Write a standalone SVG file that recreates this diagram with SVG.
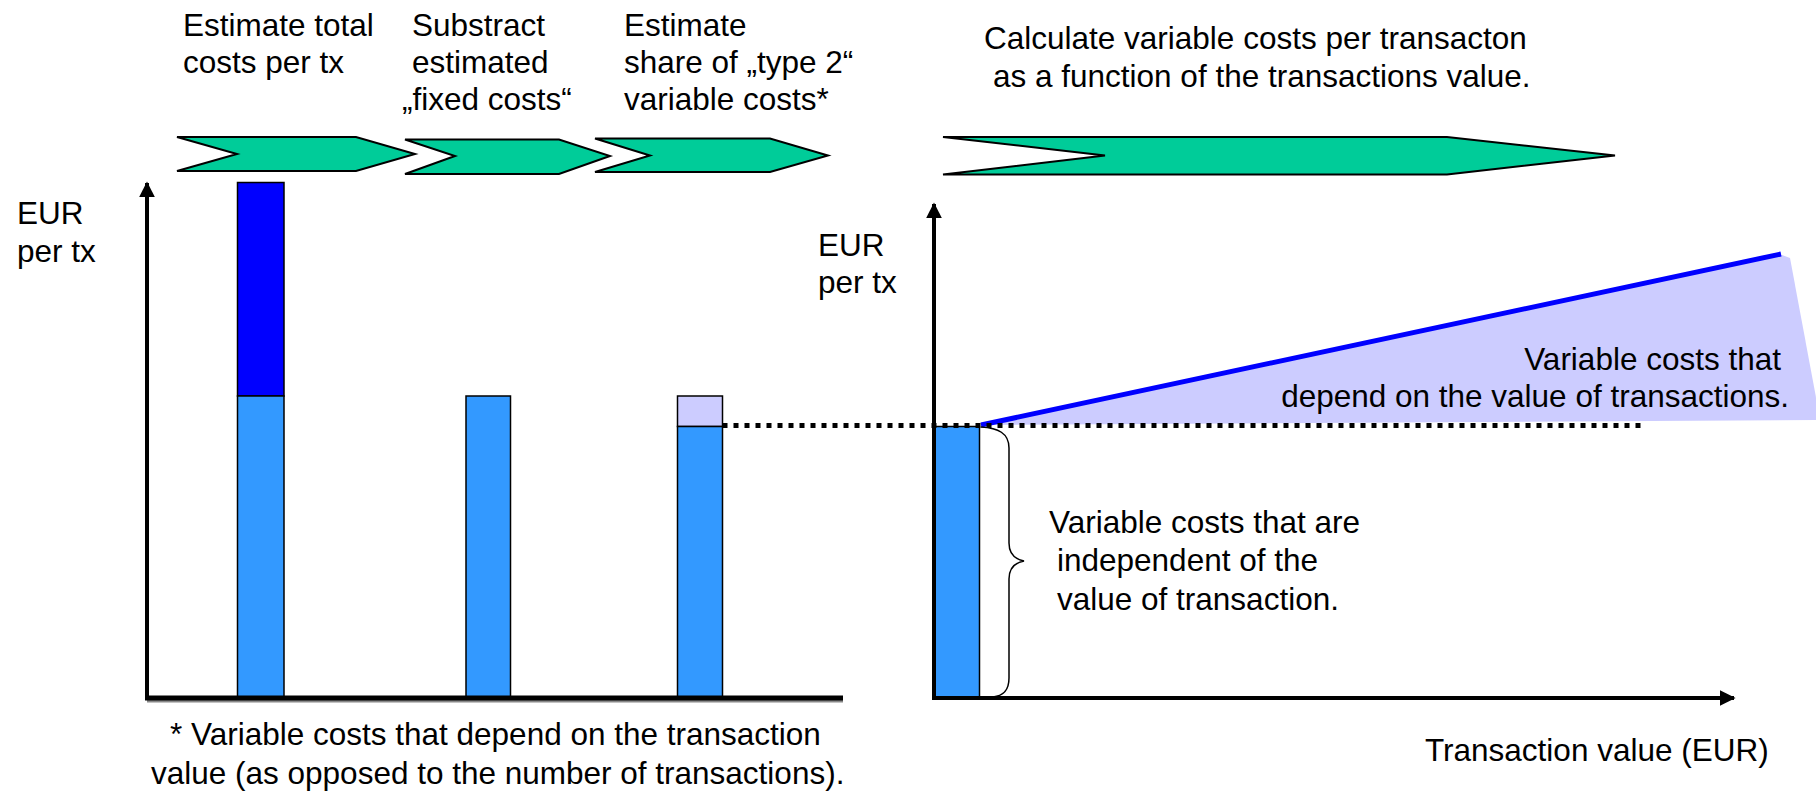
<svg xmlns="http://www.w3.org/2000/svg" width="1816" height="791" viewBox="0 0 1816 791">
<defs>
<style>
text{font-family:"Liberation Sans",Arial,Helvetica,sans-serif;font-size:31.5px;fill:#000}
.chev{fill:#00CC99;stroke:#000;stroke-width:2;stroke-linejoin:miter}
.bar{stroke:#000;stroke-width:1.5}
.lb{fill:#3399FF}
.db{fill:#0000FF}
.lv{fill:#CCCCFF}
.axis{stroke:#000;stroke-width:4;fill:none}
</style>
<marker id="ah" viewBox="0 0 10 10" refX="9" refY="5" markerWidth="16" markerHeight="16" markerUnits="userSpaceOnUse" orient="auto">
<path d="M0,0 L10,5 L0,10 Z" fill="#000"/>
</marker>
</defs>
<rect width="1816" height="791" fill="#fff"/>

<g id="step1">
<polygon class="chev" points="177,137 356,137 415,154 356,171 177,171 237,154"/>
<text x="183" y="36">Estimate total</text>
<text x="183" y="73">costs per tx</text>
</g>
<g id="step2">
<polygon class="chev" points="405,139.5 559,139.5 610,156 559,174 405,174 455,156"/>
<text x="412" y="36">Substract</text>
<text x="412" y="73">estimated</text>
<text x="402" y="110">„fixed costs“</text>
</g>
<g id="step3">
<polygon class="chev" points="595,138.5 770,138.5 828,155.5 770,172 595,172 650,155.5"/>
<text x="624" y="36">Estimate</text>
<text x="624" y="73">share of „type 2“</text>
<text x="624" y="110">variable costs*</text>
</g>
<g id="step4">
<polygon class="chev" points="943,137 1447,137 1615,155.5 1447,174.5 943,174.5 1105,155.5"/>
<text x="984" y="49">Calculate variable costs per transacton</text>
<text x="993" y="87">as a function of the transactions value.</text>
</g>

<g id="left-chart">
<text x="17" y="224">EUR</text>
<text x="17" y="262">per tx</text>
<rect class="bar db" x="237.5" y="182.5" width="46.5" height="213.5"/>
<rect class="bar lb" x="237.5" y="396" width="46.5" height="302"/>
<rect class="bar lb" x="466" y="396" width="44.5" height="302"/>
<rect class="bar lv" x="677.5" y="396" width="45" height="30.5"/>
<rect class="bar lb" x="677.5" y="426.5" width="45" height="271.5"/>
</g>

<g id="right-chart">
<text x="818" y="256">EUR</text>
<text x="818" y="293">per tx</text>
<polygon class="lv" points="982,424 1782,255 1790,258 1820,419 1820,420 982,425"/>
<line x1="981" y1="425" x2="1781" y2="254" stroke="#0000FF" stroke-width="5"/>
<rect class="bar lb" x="934" y="426.5" width="45.5" height="271.5"/>
<path d="M981,427 C998,428 1009,433 1009,448 L1009,543 C1009,553 1014,559 1024,561 C1014,563 1009,569 1009,579 L1009,678 C1009,692 1002,696 993,697" fill="none" stroke="#000" stroke-width="1.5"/>
<text x="1781" y="370" text-anchor="end">Variable costs that</text>
<text x="1789" y="407" text-anchor="end">depend on the value of transactions.</text>
<text x="1049" y="533">Variable costs that are</text>
<text x="1057" y="571">independent of the</text>
<text x="1057" y="610">value of transaction.</text>
<text x="1425" y="761">Transaction value (EUR)</text>
</g>

<g id="footnote">
<text x="170" y="745">* Variable costs that depend on the transaction</text>
<text x="151" y="784">value (as opposed to the number of transactions).</text>
</g>

<g id="connectors">
<line x1="722.5" y1="425.5" x2="1641" y2="425.5" stroke="#000" stroke-width="5" stroke-dasharray="5,6"/>
<line x1="147" y1="698" x2="147" y2="183" class="axis" marker-end="url(#ah)"/>
<line x1="147" y1="701" x2="843" y2="701" stroke="#888" stroke-width="3"/>
<line x1="145" y1="698" x2="843" y2="698" stroke="#000" stroke-width="5"/>
<line x1="934" y1="698" x2="934" y2="204" class="axis" marker-end="url(#ah)"/>
<line x1="932" y1="698" x2="1734" y2="698" class="axis" marker-end="url(#ah)"/>
</g>
</svg>
